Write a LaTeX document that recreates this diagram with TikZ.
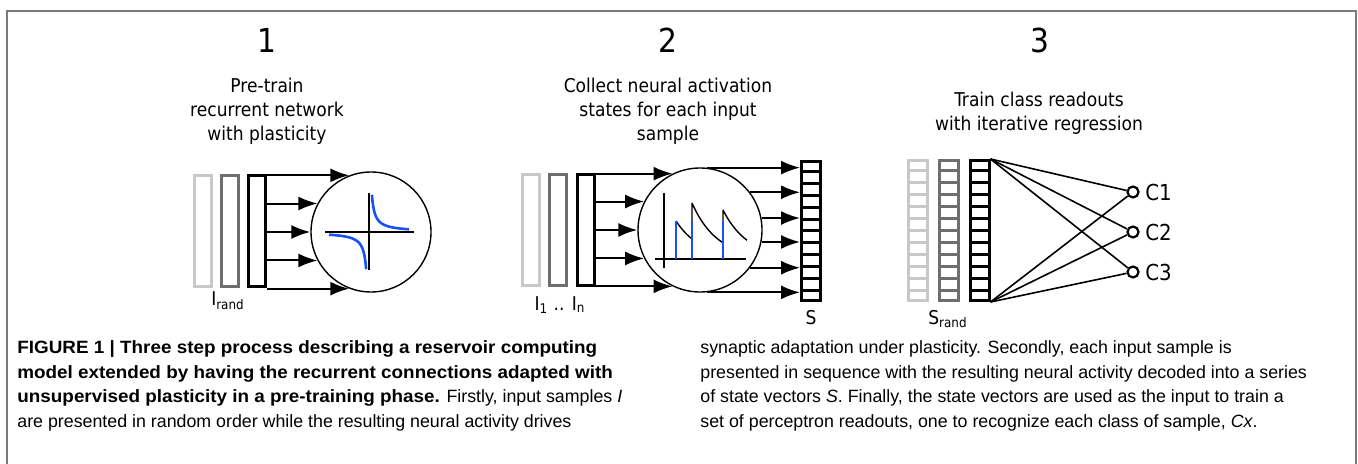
\documentclass[tikz,border=0pt]{standalone}
\usepackage{fontspec}
\setmainfont{Liberation Sans}[BoldFeatures={FakeStretch=1.06}]
\newfontfamily\dvs{DejaVu Sans Condensed}
\usetikzlibrary{arrows.meta,calc}
\definecolor{framegray}{HTML}{7A7A7A}
\definecolor{lightbar}{HTML}{C8C8C8}
\definecolor{midbar}{HTML}{6E6E6E}
\definecolor{plotblue}{RGB}{25,80,250}

% horizontal dividers that split a bar node into 12 cells
\newcommand{\cellrows}[2]{%
  \foreach \k in {1,...,11}
    \draw[#2, line width=1.5pt]
      ($(#1.north west)!\k/12!(#1.south west)$) --
      ($(#1.north east)!\k/12!(#1.south east)$);}

\begin{document}
\begin{tikzpicture}[x=0.5pt,y=-0.5pt,
  bar/.style={draw, line width=1.5pt, inner sep=0pt,
    minimum width=8.5pt, minimum height=55.5pt},
  cellbar/.style={bar, minimum width=9.5pt, minimum height=70pt},
  reservoir/.style={circle, draw, line width=0.7pt, inner sep=0pt},
  arr/.style={line width=1pt, -{Latex[length=9.5pt,width=7pt]}},
  conn/.style={line width=0.8pt},
  readout/.style={circle, draw, line width=1.1pt, inner sep=0pt, minimum size=5.5pt},
  axisline/.style={line width=0.7pt},
  spike/.style={plotblue, line width=1.3pt},
  num/.style={font=\dvs\fontsize{16.5}{20}\selectfont},
  sub/.style={align=center, font=\dvs\fontsize{9.5}{12}\selectfont},
  lab/.style={font=\dvs\fontsize{9.5}{12}\selectfont, inner sep=0pt},
  clab/.style={anchor=west, font=\dvs\fontsize{11}{13}\selectfont, inner sep=0pt},
  captext/.style={anchor=base west, inner sep=0pt, font=\fontsize{8.9}{12.35}\selectfont}]

\useasboundingbox (0,0) rectangle (1358,464);

% figure frame, open at the bottom
\draw[framegray, line width=1pt] (7,464) -- (7,11) -- (1356,11) -- (1356,464);

% step numbers and step descriptions
\node[num] (n1) at (267,40) {1};
\node[num] (n2) at (668,40) {2};
\node[num] (n3) at (1040,40) {3};
\node[sub] (t1) at (267,111) {Pre-train\\recurrent network\\with plasticity};
\node[sub] (t2) at (668,111) {Collect neural activation\\states for each input\\sample};
\node[sub] (t3) at (1039,113) {Train class readouts\\with iterative regression};

% ---- step 1: random input samples drive the plastic reservoir
\node[bar, draw=lightbar] (i1a) at (203,231) {};
\node[bar, draw=midbar] (i1b) at (229.5,231) {};
\node[bar] (i1c) at (257,231) {};
\node[reservoir, minimum size=60pt] (res1) at (371,232) {};
\foreach \a in {111,152,180,208,249}
  \draw[arr] (res1.\a -| i1c.east) -- (res1.\a);
\node[lab] (l1) at (228,301) {I\textsubscript{rand}};
% plasticity curve
\draw[axisline] (325,232) -- (414,232);
\draw[axisline] (369,193) -- (369,270);
\draw[plotblue, line width=1.3pt] plot[domain=2.9:40, samples=60, smooth] ({369+\x},{232-108/\x});
\draw[plotblue, line width=1.3pt] plot[domain=2.9:40, samples=60, smooth] ({369-\x},{232+108/\x});

% ---- step 2: ordered input samples, reservoir states collected into S
\node[bar, draw=lightbar] (i2a) at (531,230) {};
\node[bar, draw=midbar] (i2b) at (557.5,230) {};
\node[bar] (i2c) at (586,230) {};
\node[reservoir, minimum size=62pt] (res2) at (700,230) {};
\node[cellbar, minimum height=69.5pt] (S) at (811,231) {};
\cellrows{S}{black}
\foreach \a in {116,153,180,207,244}
  \draw[arr] (res2.\a -| i2c.east) -- (res2.\a);
\foreach \a in {84,37,11.5,-11.5,-37,-84}
  \draw[arr] (res2.\a) -- (res2.\a -| S.west);
\node[lab] (l2) at (560,305) {I\textsubscript{1} .. I\textsubscript{n}};
\node[lab] (l3) at (811,318) {S};
% activation trace
\draw[axisline] (664,193) -- (664,268);
\draw[axisline] (655,259) -- (746,259);
\draw[line width=0.7pt] plot[domain=0:16, samples=20, smooth] ({676+\x},{259-38*exp(-\x/25)})
  -- (692,203)
  plot[domain=0:31, samples=25, smooth] ({692+\x},{259-56*exp(-\x/25)})
  -- (723,210)
  plot[domain=0:24, samples=20, smooth] ({723+\x},{259-49*exp(-\x/25)});
\draw[spike] (676,259) -- (676,221);
\draw[spike] (692,259) -- (692,221);
\draw[spike] (723,259) -- (723,221);

% ---- step 3: state vectors feed the class readouts
\node[cellbar, draw=lightbar] (i3a) at (918,230.5) {};
\cellrows{i3a}{lightbar}
\node[cellbar, draw=midbar] (i3b) at (949,230.5) {};
\cellrows{i3b}{midbar}
\node[cellbar] (i3c) at (979.5,230.5) {};
\cellrows{i3c}{black}
\node[readout] (c1) at (1133,192) {};
\node[readout] (c2) at (1133,232) {};
\node[readout] (c3) at (1133,272) {};
\foreach \c in {c1,c2,c3} {
  \draw[conn] (i3c.north east) -- (\c);
  \draw[conn] (i3c.south east) -- (\c);
}
\node[clab] (c1l) at (1145,192) {C1};
\node[clab] (c2l) at (1145,232) {C2};
\node[clab] (c3l) at (1145,272) {C3};
\node[lab] (l4) at (948,319) {S\textsubscript{rand}};

% ---- caption
\node[captext] (cap1) at (17,353) {\textbf{FIGURE 1 | Three step process describing a reservoir computing}};
\node[captext] (cap2) at (17,378) {\textbf{model extended by having the recurrent connections adapted with}};
\node[captext] (cap3) at (17,402.5) {\textbf{unsupervised plasticity in a pre-training phase.} Firstly, input samples \textit{I}};
\node[captext] (cap4) at (17,427) {are presented in random order while the resulting neural activity drives};
\node[captext] (cap5) at (700,353) {synaptic adaptation under plasticity. Secondly, each input sample is};
\node[captext] (cap6) at (700,378) {presented in sequence with the resulting neural activity decoded into a series};
\node[captext] (cap7) at (700,402.5) {of state vectors \textit{S}. Finally, the state vectors are used as the input to train a};
\node[captext] (cap8) at (700,427) {set of perceptron readouts, one to recognize each class of sample, \textit{Cx}.};
\end{tikzpicture}
\end{document}
